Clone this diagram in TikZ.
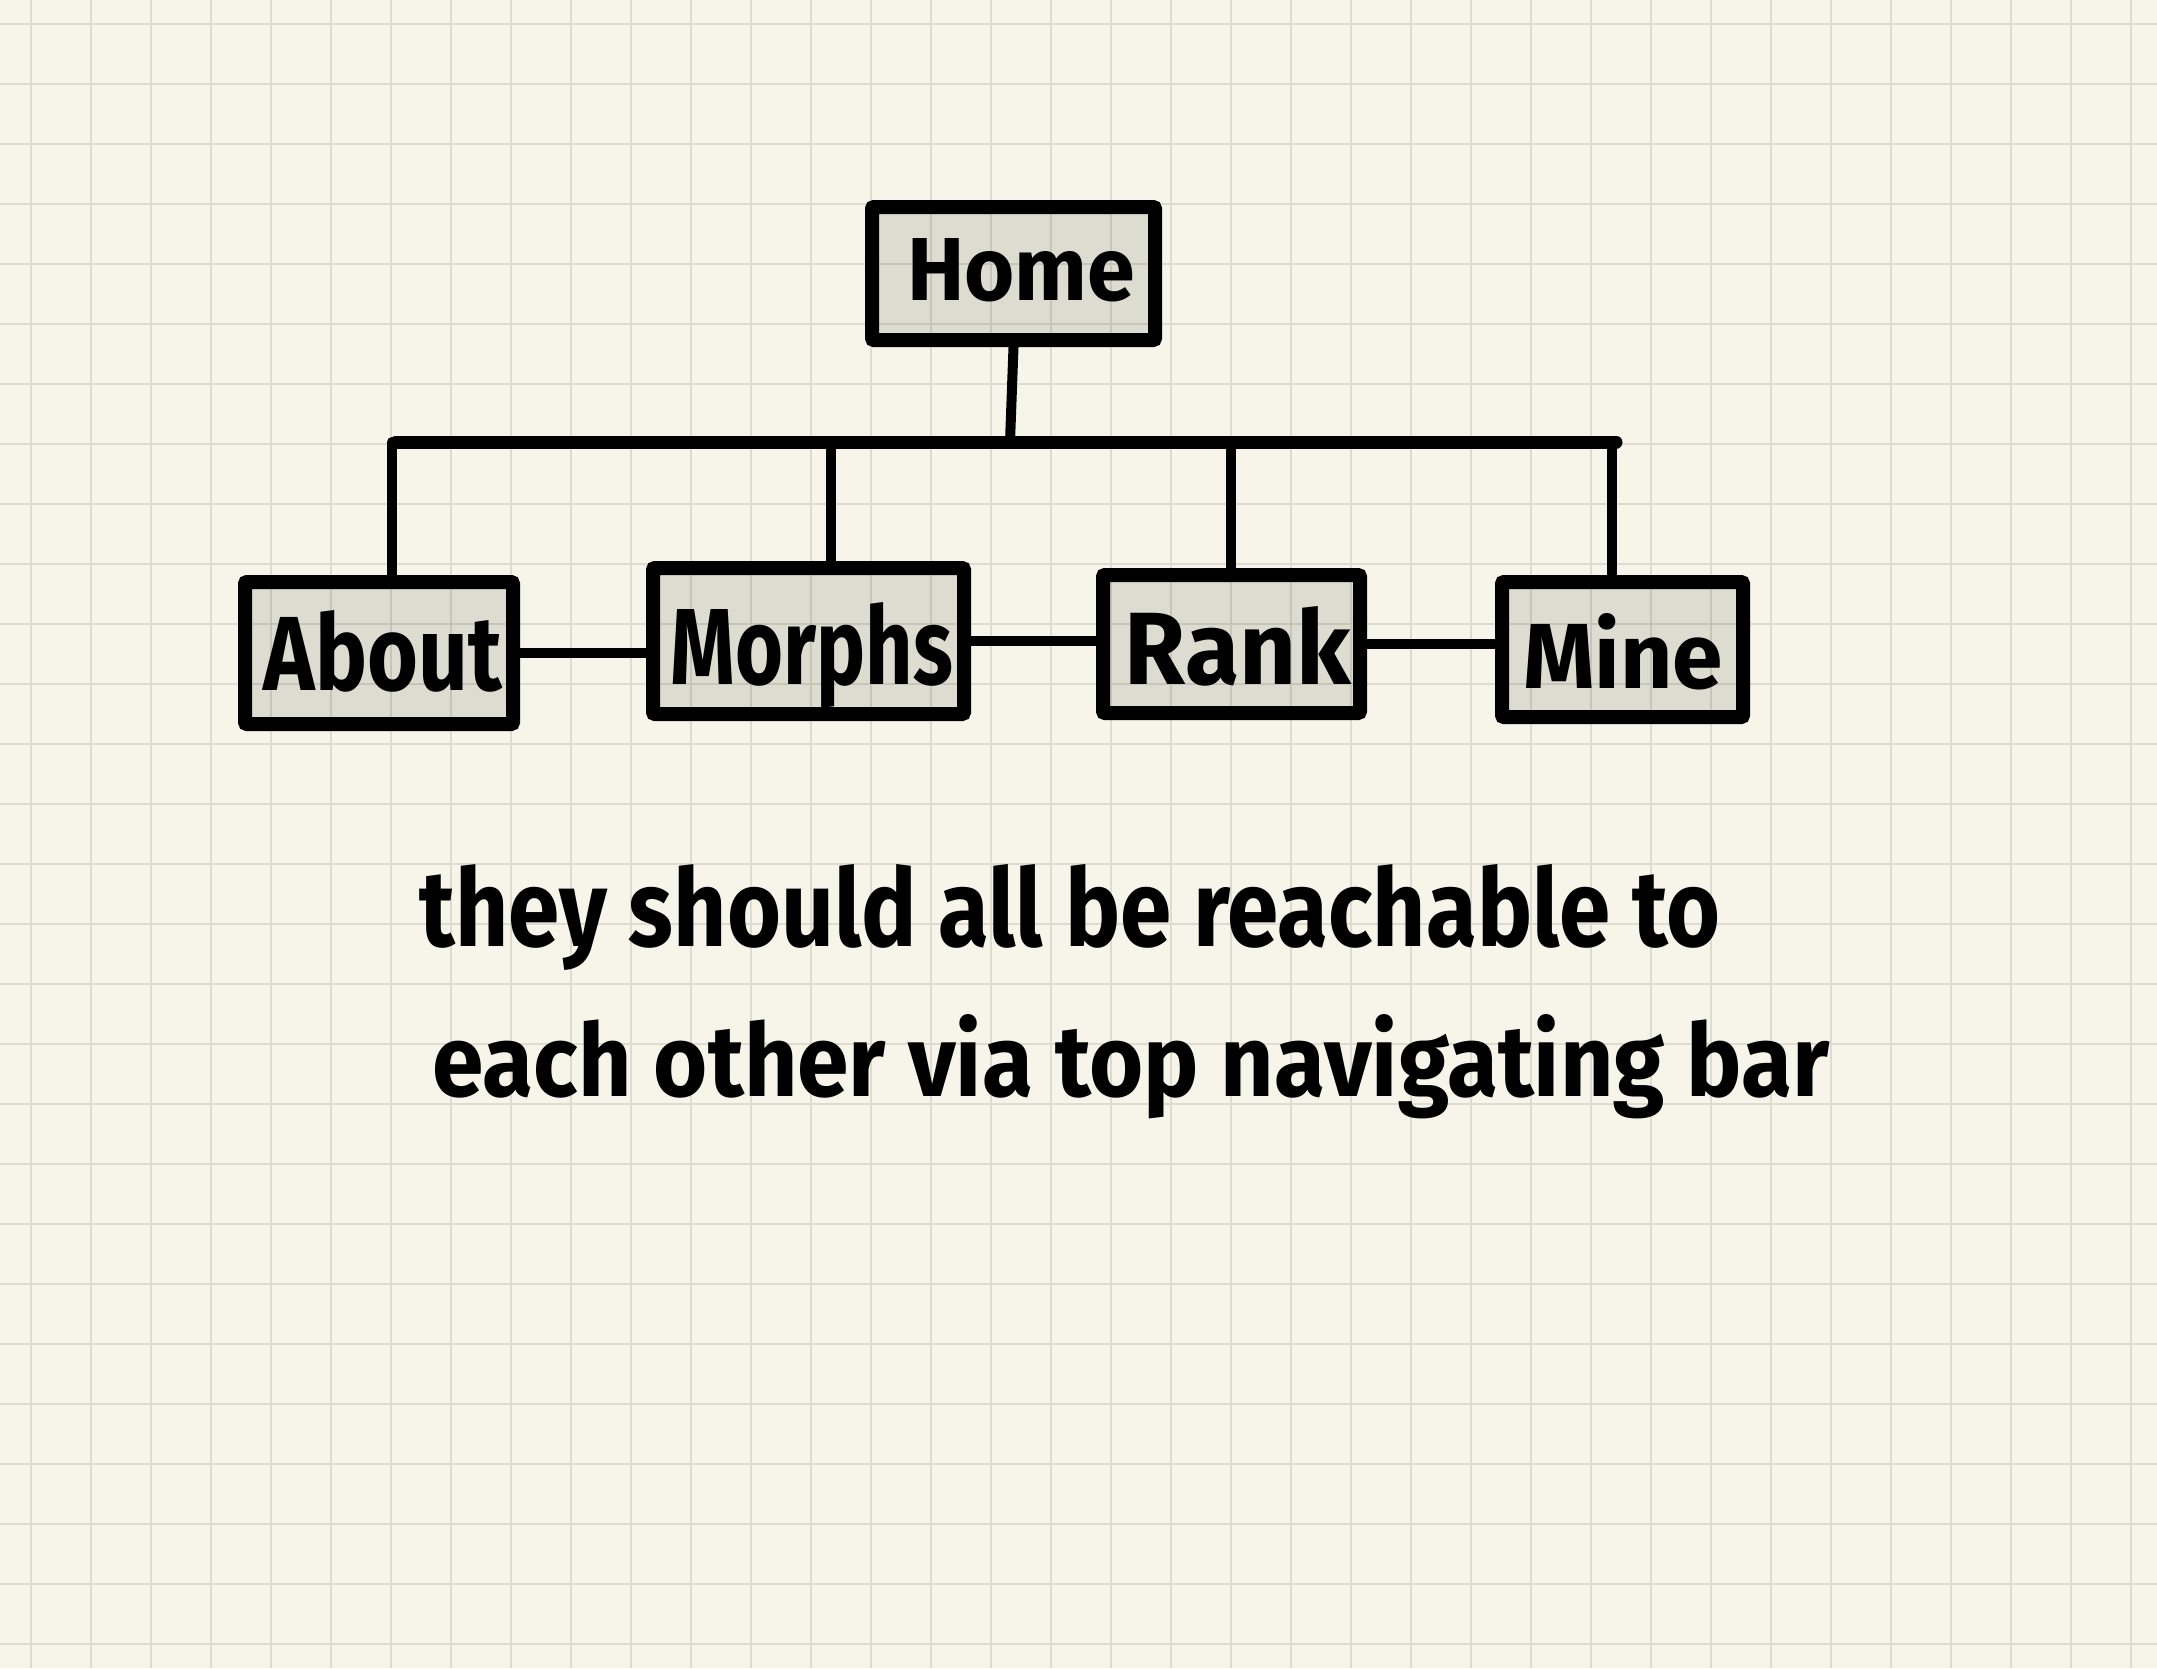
\documentclass[tikz,border=0pt]{standalone}
\usepackage{fontspec}
\setmainfont{Fira Sans}
\definecolor{paper}{HTML}{F7F5E9}
\definecolor{gridc}{HTML}{DEDCD0}
\tikzset{
  box/.style={rectangle, draw=black, line width=14pt, fill=black, fill opacity=0.1,
    draw opacity=1, text opacity=1, rounded corners=2pt, inner sep=0pt},
  wire/.style={draw=black, line width=10pt, line cap=round},
  lbl/.style={anchor=base, inner sep=0pt, font=\bfseries, text=black}
}
\begin{document}
\begin{tikzpicture}[x=1pt,y=-1pt]
\fill[paper] (0,0) rectangle (2157,1668);
\useasboundingbox (0,0) rectangle (2157,1668);
\foreach \x in {31,91,...,2157} \draw[gridc,line width=2pt] (\x,0) -- (\x,1668);
\foreach \y in {24,84,...,1668} \draw[gridc,line width=2pt] (0,\y) -- (2157,\y);

% boxes
\node[box, minimum width=283pt, minimum height=133pt] (home) at (1013.5,273.5) {};
\node[box, minimum width=268pt, minimum height=142pt] (about) at (379,653) {};
\node[box, minimum width=311pt, minimum height=146pt] (morphs) at (808.5,641) {};
\node[box, minimum width=257pt, minimum height=138pt] (rank) at (1231.5,644) {};
\node[box, minimum width=241pt, minimum height=135pt] (mine) at (1622.5,649.5) {};

% labels
\node[lbl] (thome) at (1021,300) {\resizebox{228pt}{62pt}{Home}};
\node[lbl] (tabout) at (383,690) {\resizebox{238pt}{80pt}{About}};
\node[lbl] (tmorphs) at (812,684) {\resizebox{282pt}{82pt}{Morphs}};
\node[lbl] (trank) at (1238,684) {\resizebox{226pt}{78pt}{Rank}};
\node[lbl] (tmine) at (1623,688) {\resizebox{200pt}{75pt}{Mine}};

% bar and drops
\coordinate (barL) at (396,442);
\coordinate (barR) at (1616,442);
\coordinate (hb) at (1010,442);
\coordinate (b1) at (392,442);
\coordinate (b2) at (831,442);
\coordinate (b3) at (1231,442);
\coordinate (b4) at (1612,442);
\draw[wire, line width=13pt] (barL) -- (barR);
\draw[wire] (home.south) -- (hb);
\draw[wire] (b1) -- (b1 |- about.north);
\draw[wire] (b2) -- (b2 |- morphs.north);
\draw[wire] (b3) -- (b3 |- rank.north);
\draw[wire] (b4) -- (b4 |- mine.north);

% horizontal links
\draw[wire] (about.east) -- (morphs.west |- about.east);
\draw[wire] (morphs.east) -- (rank.west |- morphs.east);
\draw[wire] (rank.east) -- (mine.west |- rank.east);

% note
\node[lbl] (note1) at (1070,946) {\resizebox{1300pt}{82pt}{they should all be reachable to}};
\node[lbl] (note2) at (1131,1096) {\resizebox{1396pt}{82pt}{each other via top navigating bar}};
\end{tikzpicture}
\end{document}
